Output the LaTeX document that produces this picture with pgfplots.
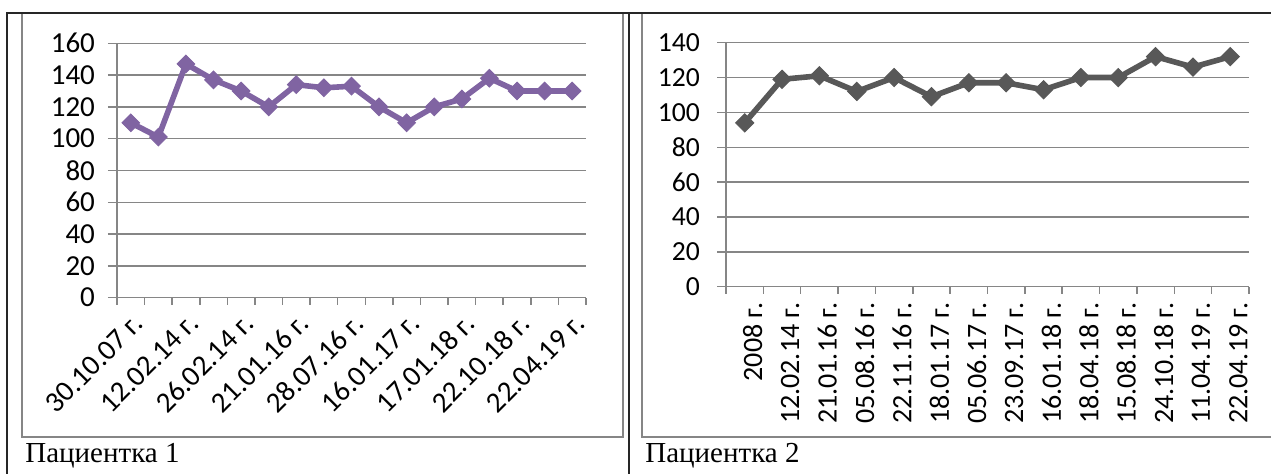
\documentclass[border=0pt]{standalone}
\usepackage{fontspec}
\setmainfont{Liberation Serif}
\newfontfamily\calibri{Carlito}
\usepackage{pgfplots}
\pgfplotsset{compat=1.18}

\definecolor{seriesA}{RGB}{128,100,162}
\definecolor{seriesB}{RGB}{88,88,88}
\definecolor{gridgray}{RGB}{134,134,134}

\pgfplotsset{
  chartbase/.style={
    scale only axis,
    clip=false,
    axis x line*=bottom,
    axis y line*=left,
    axis line style={gridgray, line width=0.75pt},
    ymajorgrids,
    major grid style={gridgray, line width=0.75pt},
    tick align=outside,
    major tick length=4.5pt,
    minor tick length=3.5pt,
    every tick/.style={gridgray, line width=0.75pt},
    major x tick style={draw=none},
    tick label style={text=black},
    /pgf/number format/assume math mode=true,
  },
}

\begin{document}
\begin{tikzpicture}
\useasboundingbox (0,0) rectangle (635.5pt,237pt);

% table frame
\draw[gridgray, line width=0.75pt] (11pt,230.5pt) rectangle (311.5pt,18.5pt);
\draw[gridgray, line width=0.75pt] (640pt,18.5pt) -- (321pt,18.5pt) -- (321pt,230.5pt);
\draw[black!85, line width=1pt] (3.5pt,0pt) -- (3.5pt,230.5pt) -- (640pt,230.5pt);
\draw[black!85, line width=1pt] (314.5pt,0pt) -- (314.5pt,230.5pt);

\node[anchor=base west, inner sep=0pt, font=\fontsize{14.5}{16}\selectfont] at (12.5pt,5.5pt) {Пациентка 1};
\node[anchor=base west, inner sep=0pt, font=\fontsize{14.5}{16}\selectfont] at (322.5pt,5.5pt) {Пациентка 2};

% patient 1
\begin{axis}[chartbase,
  at={(58.5pt,88.15pt)}, anchor=south west,
  width=234.5pt, height=127.2pt,
  xmin=-0.5, xmax=16.5, ymin=0, ymax=160,
  ytick={0,20,...,160},
  xtick={0,2,...,16},
  xticklabels={30.10.07 г., 12.02.14 г., 26.02.14 г., 21.01.16 г., 28.07.16 г., 16.01.17 г., 17.01.18 г., 22.10.18 г., 22.04.19 г.},
  minor xtick={-0.5,0.5,...,16.5},
  tick label style={font=\calibri\fontsize{14.5}{16}\selectfont},
  yticklabel style={xshift=-3pt},
  xticklabel style={rotate=45, anchor=east, yshift=-7pt, xshift=2pt},
]
\addplot[seriesA, line width=2.8pt, mark=square*, mark size=3.1pt,
  mark options={rotate=45, solid, line width=0.5pt}]
  coordinates {
  (0,110) (1,101) (2,147) (3,137) (4,130) (5,120) (6,134) (7,132) (8,133)
  (9,120) (10,110) (11,120) (12,125) (13,138) (14,130) (15,130) (16,130)
  };
\end{axis}

% patient 2
\begin{axis}[chartbase,
  at={(363pt,93.65pt)}, anchor=south west,
  width=261.5pt, height=122pt,
  xmin=-0.5, xmax=13.5, ymin=0, ymax=140,
  ytick={0,20,...,140},
  xtick={0,...,13},
  xticklabels={2008 г., 12.02.14 г., 21.01.16 г., 05.08.16 г., 22.11.16 г., 18.01.17 г., 05.06.17 г., 23.09.17 г., 16.01.18 г., 18.04.18 г., 15.08.18 г., 24.10.18 г., 11.04.19 г., 22.04.19 г.},
  minor xtick={-0.5,0.5,...,13.5},
  yticklabel style={font=\calibri\fontsize{13.8}{16}\selectfont, xshift=-5pt},
  xticklabel style={font=\calibri\fontsize{14}{16}\selectfont, rotate=90, anchor=east, yshift=-4pt},
]
\addplot[seriesB, line width=2.8pt, mark=square*, mark size=3.2pt,
  mark options={rotate=45, solid, line width=0.5pt}]
  coordinates {
  (0,94) (1,119) (2,121) (3,112) (4,120) (5,109) (6,117) (7,117)
  (8,113) (9,120) (10,120) (11,132) (12,126) (13,132)
  };
\end{axis}
\end{tikzpicture}
\end{document}
